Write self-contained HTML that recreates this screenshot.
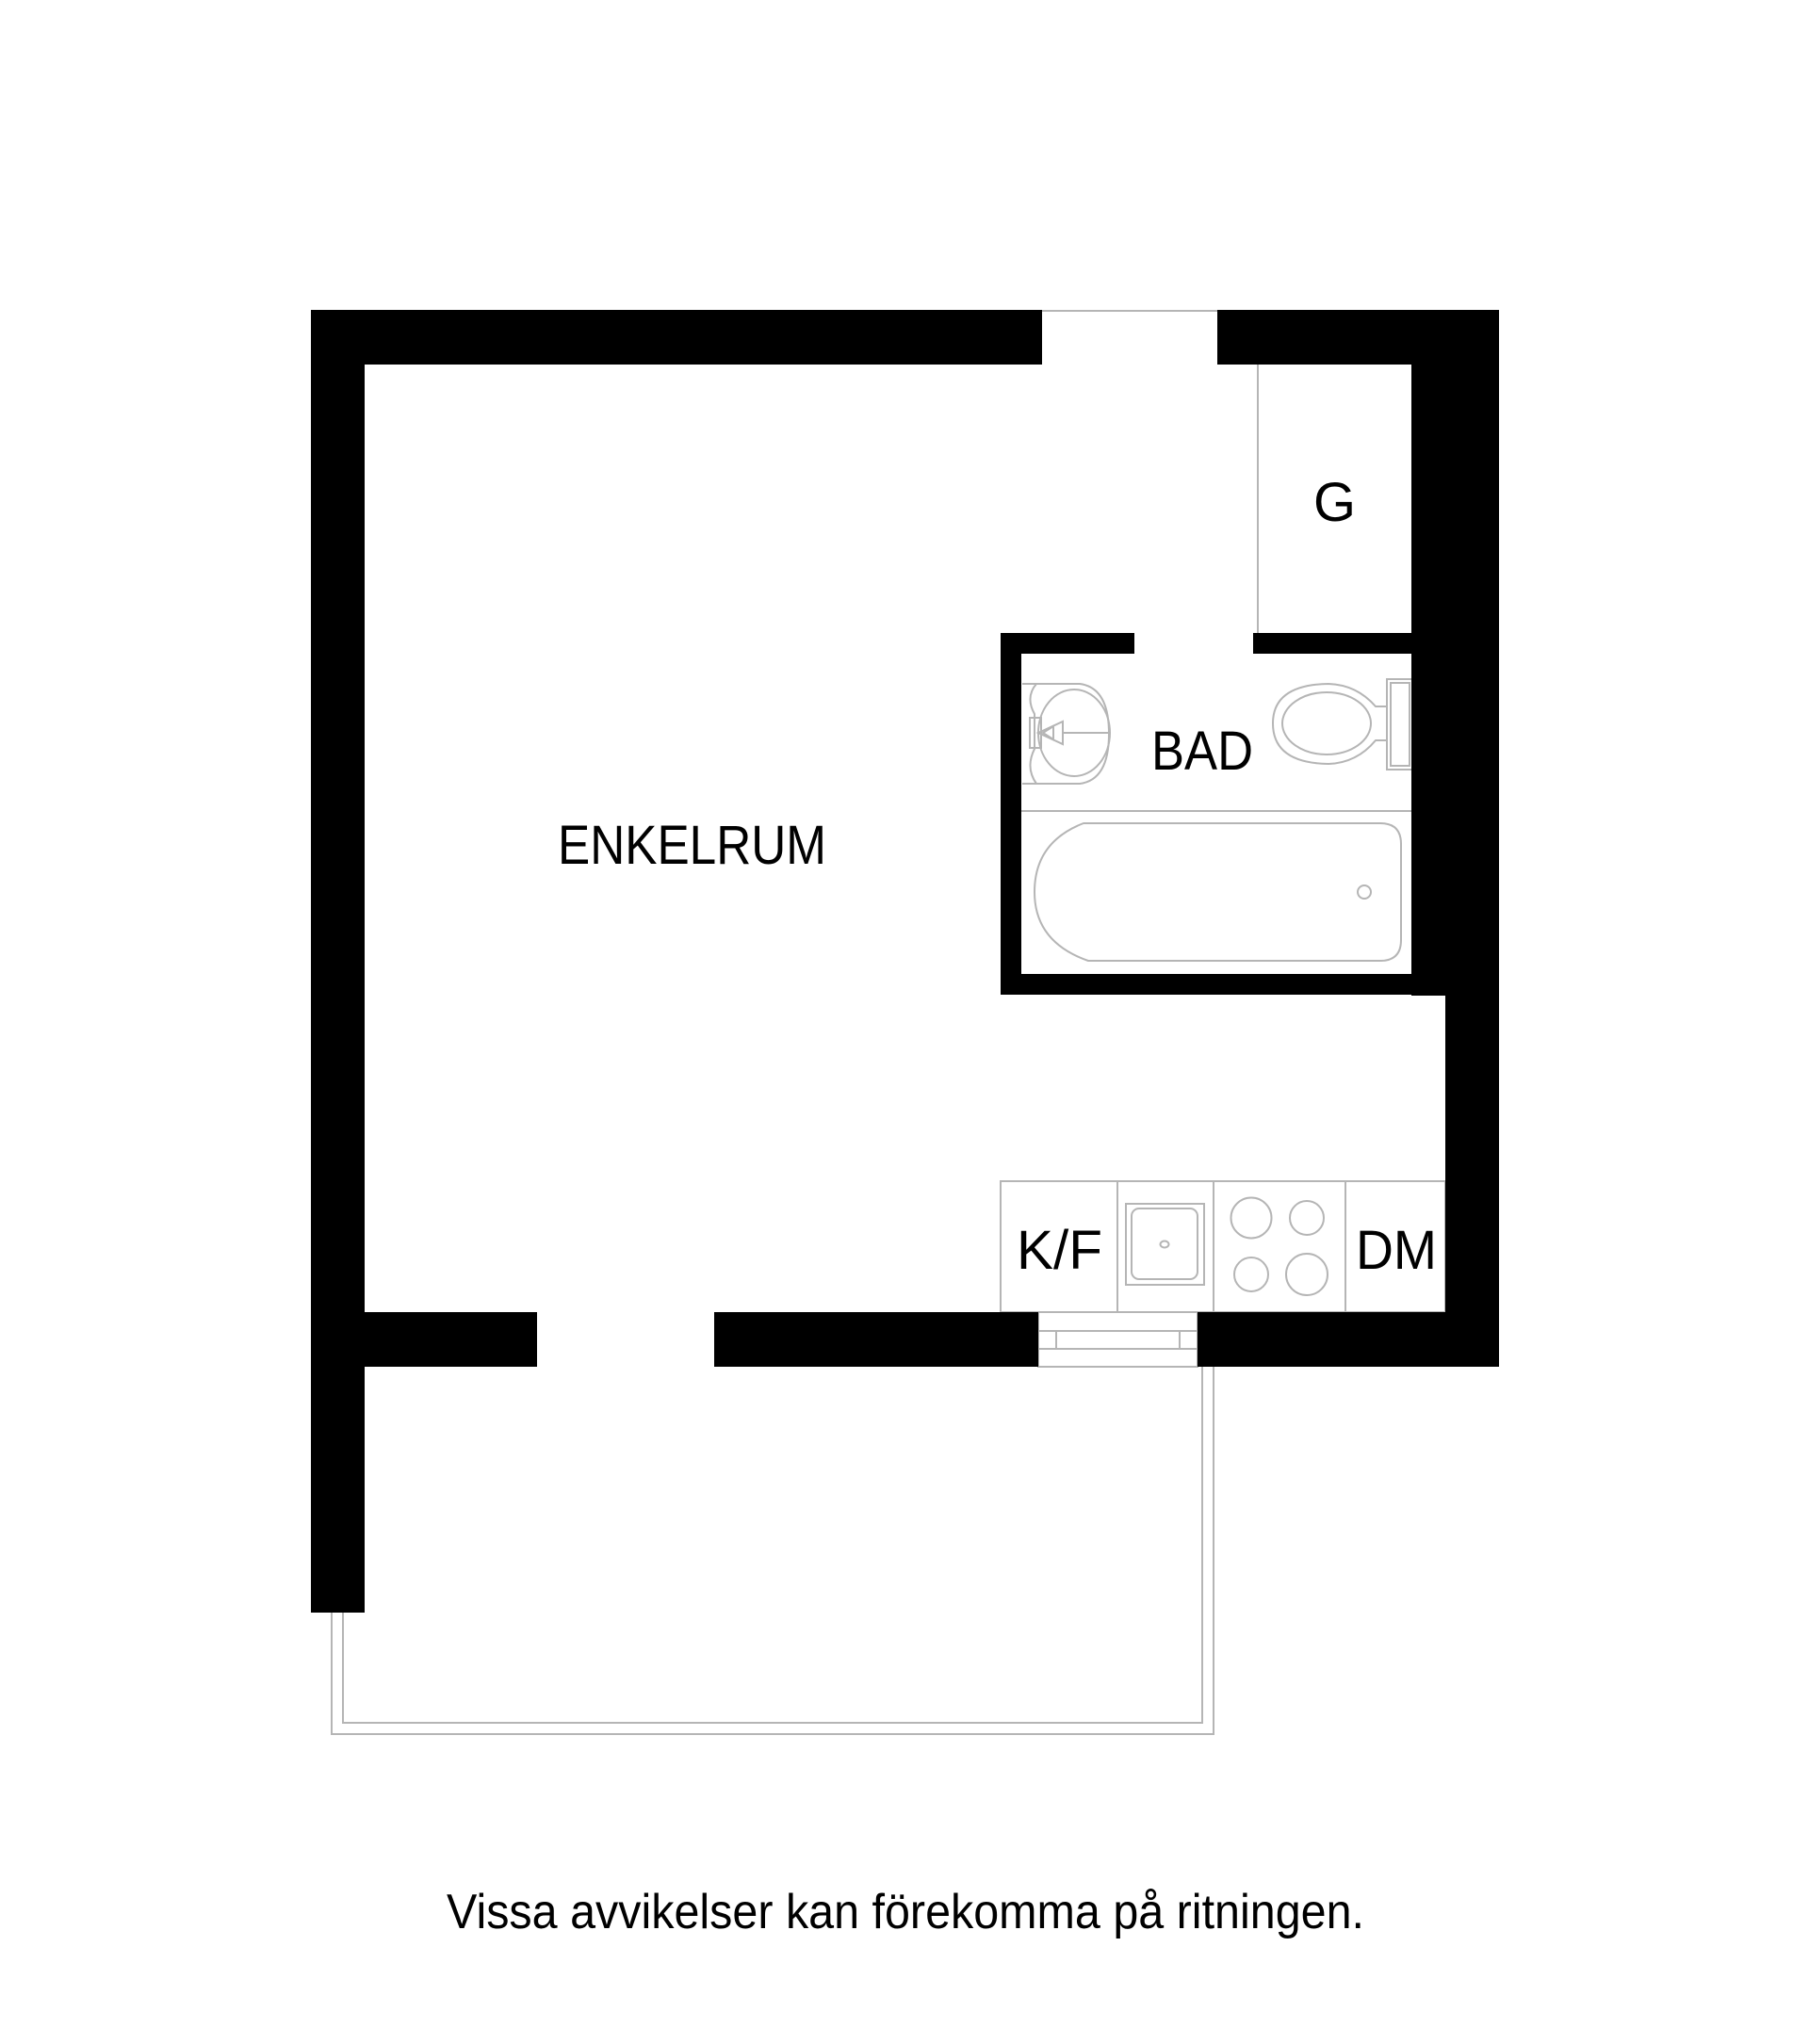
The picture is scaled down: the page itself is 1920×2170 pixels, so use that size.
<!DOCTYPE html>
<html><head><meta charset="utf-8"><style>html,body{margin:0;padding:0;background:#fff}svg{display:block}</style></head>
<body>
<svg width="1920" height="2170" viewBox="0 0 1920 2170" xmlns="http://www.w3.org/2000/svg">
<rect width="1920" height="2170" fill="#fff"/>
<g fill="none" stroke="#b5b5b5" stroke-width="2">
<polyline points="352,1712 352,1841 1288,1841 1288,1451"/>
<polyline points="364,1712 364,1829 1276,1829 1276,1451"/>
<line x1="1106" y1="330" x2="1292" y2="330"/>
<line x1="1335" y1="387" x2="1335" y2="672"/>
<rect x="1102" y="1393" width="169" height="58"/>
<line x1="1102" y1="1413" x2="1271" y2="1413"/>
<line x1="1102" y1="1432" x2="1271" y2="1432"/>
<line x1="1121" y1="1413" x2="1121" y2="1432"/>
<line x1="1252" y1="1413" x2="1252" y2="1432"/>
<rect x="1062" y="1254" width="472" height="139"/>
<line x1="1186" y1="1254" x2="1186" y2="1393"/>
<line x1="1288" y1="1254" x2="1288" y2="1393"/>
<line x1="1428" y1="1254" x2="1428" y2="1393"/>
<rect x="1195" y="1278" width="83" height="86"/>
<rect x="1201" y="1283" width="70" height="75" rx="8"/>
<ellipse cx="1236" cy="1321" rx="4.5" ry="3.5"/>
<circle cx="1328" cy="1293" r="21.5"/>
<circle cx="1387" cy="1293" r="18"/>
<circle cx="1328" cy="1353" r="18"/>
<circle cx="1387" cy="1353" r="22"/>
<line x1="1084" y1="861" x2="1498" y2="861"/>
<path d="M1150,874 H1465 Q1487,874 1487,896 V998 Q1487,1020 1465,1020 H1155 Q1098,1000 1098,947 Q1098,894 1150,874 Z"/>
<circle cx="1448" cy="947" r="7"/>
<path d="M1085,726 H1146 Q1177,730 1177,779 Q1177,828 1146,832 H1085"/>
<path d="M1100,726 Q1088,740 1098,758 L1098,795 Q1088,815 1100,832" />
<ellipse cx="1140" cy="778" rx="38" ry="46"/>
<rect x="1093" y="762" width="12" height="32"/>
<polygon points="1102,778 1128,766 1128,790"/>
<polygon points="1107,778 1118,771 1118,785"/>
<line x1="1128" y1="778" x2="1177" y2="778"/>
<rect x="1472" y="721" width="28" height="96"/>
<rect x="1476" y="725" width="20" height="88"/>
<path d="M1472,750 H1460 Q1440,727 1410,726 Q1351,727 1351,768 Q1351,810 1410,811 Q1440,810 1460,786 H1472"/>
<ellipse cx="1408" cy="768" rx="47" ry="33"/>
</g>
<g fill="#000">
<rect x="330" y="329" width="776" height="58"/>
<rect x="1292" y="329" width="299" height="58"/>
<rect x="1498" y="329" width="93" height="728"/>
<rect x="330" y="329" width="57" height="1383"/>
<rect x="1062" y="672" width="142" height="22"/>
<rect x="1330" y="672" width="261" height="22"/>
<rect x="1062" y="672" width="22" height="384"/>
<rect x="1062" y="1034" width="529" height="22"/>
<rect x="1534" y="1034" width="57" height="417"/>
<rect x="330" y="1393" width="240" height="58"/>
<rect x="758" y="1393" width="344" height="58"/>
<rect x="1271" y="1393" width="320" height="58"/>
</g>
<g font-family="Liberation Sans, sans-serif" fill="#000" font-size="58">
<text x="592" y="917" textLength="285" lengthAdjust="spacingAndGlyphs">ENKELRUM</text>
<text x="1222" y="817" textLength="108" lengthAdjust="spacingAndGlyphs">BAD</text>
<text x="1394" y="553" textLength="45" lengthAdjust="spacingAndGlyphs">G</text>
<text x="1079" y="1347" textLength="91" lengthAdjust="spacingAndGlyphs">K/F</text>
<text x="1439" y="1347" textLength="86" lengthAdjust="spacingAndGlyphs">DM</text>
<text x="474" y="2047" font-size="52" textLength="974" lengthAdjust="spacingAndGlyphs">Vissa avvikelser kan förekomma på ritningen.</text>
</g>
</svg>
</body></html>
